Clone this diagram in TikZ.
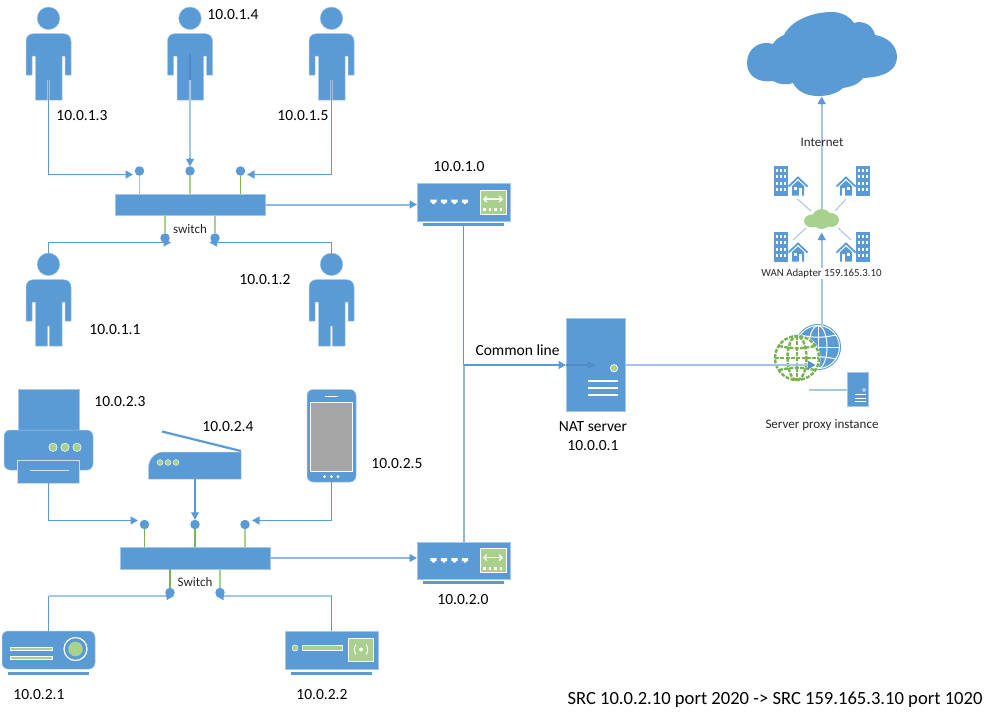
\documentclass[tikz,border=0pt]{standalone}
\usepackage{fontspec}
\setmainfont{Carlito}
\usetikzlibrary{arrows.meta,calc}
\definecolor{bl}{HTML}{5B9BD5}
\definecolor{lb}{HTML}{A5C6E6}
\definecolor{db}{HTML}{4E8CC6}
\definecolor{gr}{HTML}{A9D18E}
\definecolor{dg}{HTML}{70AD47}
\definecolor{gy}{HTML}{A5A5A5}
\tikzset{
 x=1pt,y=-1pt,
 icon/.style={fill=bl,draw=lb,line width=.5pt},
 conn/.style={draw=bl,line width=1.4pt},
 lightconn/.style={draw=lb,line width=2pt},
 arr/.style={-{Triangle[length=7.5pt,width=8pt,fill=bl]}},
 stub/.style={draw=gr,line width=1.7pt},
 stubd/.style={draw=dg!80!gr,line width=1.4pt},
 dotn/.style={circle,fill=bl,inner sep=0pt,minimum size=9.5pt,outer sep=0pt},
 swbox/.style={rectangle,fill=bl,draw=lb,line width=.5pt,minimum width=150pt,minimum height=21.5pt,inner sep=0pt,outer sep=0pt},
 boxn/.style={rectangle,icon,inner sep=0pt,outer sep=0pt},
 lab/.style={font=\fontsize{15.5}{17}\selectfont,inner sep=0pt,text=black},
 sm/.style={font=\fontsize{13}{15}\selectfont,inner sep=0pt,text=black!85},
 person/.pic={
  \fill[bl,draw=lb,line width=.4pt] (0,18.3) circle (11.3);
  \path[icon] (-22.5,75) -- (-22.5,41) .. controls (-22.5,36.5) and (-19.5,33.7) .. (-15,33.7) -- (15,33.7) .. controls (19.5,33.7) and (22.5,36.5) .. (22.5,41) -- (22.5,75) -- (16.5,75) -- (16.5,56) -- (13.5,56) -- (13.5,100) -- (.8,100) -- (.8,80) -- (-.8,80) -- (-.8,100) -- (-13,100) -- (-13,56) -- (-16.5,56) -- (-16.5,75) -- cycle;
  \coordinate (-c) at (0,80);
  \coordinate (-m) at (0,54);
  \coordinate (-t) at (0,7);
 },
 router/.pic={
  \node[boxn,minimum width=93pt,minimum height=37.5pt] (-b) at (0,0) {};
  \fill[bl] (-40.5,20.5) rectangle (40.5,23.5);
  \foreach \px in {-30,-19.5,-9,1.5}{
   \fill[white] (\px-3.2,-2.5) -- (\px+3.2,-2.5) -- (\px+3.2,.5) -- (\px+1.5,.5) -- (\px+1,2.2) -- (\px-1,2.2) -- (\px-1.5,.5) -- (\px-3.2,.5) -- cycle;
  }
  \path[fill=gr,draw=white,line width=.8pt] (16.5,-12) rectangle (42.5,12);
  \draw[white,line width=1.1pt,{Straight Barb[length=3pt,width=6pt]}-{Straight Barb[length=3pt,width=6pt]}] (19.5,-3) -- (39.5,-3);
  \foreach \px in {21,26.5,32,37.5}{\fill[white] (\px-1.3,6) rectangle (\px+1.3,9);}
 },
 building/.pic={
  \fill[bl] (0,0) rectangle (14,30);
  \foreach \c in {2.3,6,9.7}{\foreach \r in {2.5,9,15.5,22}{\fill[white] (\c,\r) rectangle +(2,3.2);}}
  \draw[bl,line width=1.8pt] (14.5,20.5) -- (24,11.5) -- (33.5,20.5);
  \fill[bl] (18,29.5) -- (18,20) -- (24,14.5) -- (30,20) -- (30,29.5) -- cycle;
  \fill[white] (20,21) rectangle (23,24);
  \fill[white] (25,22) rectangle (28,29.5);
 },
}
\begin{document}
\begin{tikzpicture}
\useasboundingbox (0,0) rectangle (993,721);
% ---- persons
\pic (p13) at (48.5,0) {person};
\pic (p14) at (190,0) {person};
\pic (p15) at (331.5,0) {person};
\pic (p11) at (48.5,246) {person};
\pic (p12) at (331.5,246) {person};
% ---- upper switch
\node[swbox] (sw1) at (190,204.5) {};
\node[dotn] (d13) at (139.5,171) {};
\node[dotn] (d14) at (190,171) {};
\node[dotn] (d15) at (240.5,171) {};
\node[dotn] (d11) at (165,238) {};
\node[dotn] (d12) at (215,238) {};
\draw[stub] (d13) -- (d13 |- sw1.north);
\draw[stub] (d14) -- (d14 |- sw1.north);
\draw[stubd] (d15) -- (d15 |- sw1.north);
\draw[stub] (d11) -- (d11 |- sw1.south);
\draw[stub] (d12) -- (d12 |- sw1.south);
\coordinate (t13) at (133,174.5);
\coordinate (t15) at (247,174.5);
\coordinate (t11) at (171,242.5);
\coordinate (t12) at (209.5,242.5);
\draw[conn,arr] (p13-c) |- (t13);
\draw[conn,arr] (p15-m) |- (t15);
\draw[conn,draw=db] (p14-m) -- (p14-c);
\draw[lightconn] (p14-c) -- ($(d14.north)+(0,-8)$);
\draw[conn,arr] ($(d14.north)+(0,-8)$) -- (d14.north);
\draw[conn,arr] (p11-t) |- (t11);
\draw[conn,arr] (p12-t) |- (t12);
% ---- routers
\pic (r1) at (463.5,202) {router};
\pic (r2) at (463.5,560.5) {router};
\coordinate (e1) at (sw1.east -| r1-b.west);
\draw[lightconn,draw=lb!70!bl] (sw1.east) -- ($(e1)+(-8,0)$);
\draw[conn,arr] ($(e1)+(-8,0)$) -- (e1);
\coordinate (j) at (463.5,365);
\draw[conn] (463.5,226) -- (j);
\draw[lightconn,draw=lb!70!bl] (j) -- (r2-b.north);
% ---- server
\node[boxn,minimum width=59pt,minimum height=93pt] (nat) at (595.5,365) {};
\fill[gr,draw=white,line width=.7pt] (614,368.2) circle (3.7);
\foreach \yy in {381,388,395}{\draw[white,line width=1.5pt] (588,\yy) -- (618,\yy);}
\draw[conn,line width=1.6pt,arr] (j) -- (nat.west);
\draw[db,line width=1.2pt,-{Triangle[length=7.5pt,width=7pt,fill=db]}] (nat.west) -- (595,365);
% ---- lower switch
\node[swbox] (sw2) at (195,558) {};
\node[dotn] (d23) at (144.5,524.5) {};
\node[dotn] (d24) at (195,524.5) {};
\node[dotn] (d25) at (245,524.5) {};
\node[dotn] (d21) at (170,592.5) {};
\node[dotn] (d22) at (220,592.5) {};
\draw[stubd] (d23) -- (d23 |- sw2.north);
\draw[stubd] (d24) -- (d24 |- sw2.north);
\draw[stub] (d25) -- (d25 |- sw2.north);
\draw[stubd] (d21) -- (d21 |- sw2.south);
\draw[stub] (d22) -- (d22 |- sw2.south);
% printer
\path[icon] (18,389) rectangle (79,430);
\path[icon,rounded corners=6pt] (4,470) -- (4,430) -- (93,430) -- (93,470) -- cycle;
\foreach \dx in {53,65,77}{\fill[gr,draw=white,line width=.5pt] (\dx,447.3) circle (4.2);}
\node[boxn,draw=white!40!lb,minimum width=62pt,minimum height=23.5pt] (prn) at (48.5,471.5) {};
\draw[lb!50!white,line width=1pt] (30,470.5) -- (69,470.5);
% scanner
\draw[bl,line width=2.2pt] (162,431.5) -- (241,451);
\path[icon] (148.5,479) -- (148.5,468) .. controls (148.5,459) and (155,452) .. (164,452) -- (241,452) -- (241,479) -- cycle;
\foreach \dx in {160,168,176}{\fill[gr,draw=white,line width=.4pt] (\dx,462.5) circle (2.9);}
\coordinate (scn) at (195,479);
% phone
\path[icon,rounded corners=6pt] (307,389.5) rectangle (356,482);
\fill[gy,draw=white,line width=.8pt] (310.5,402) rectangle (352.5,471);
\draw[white,line width=1pt] (325,396) -- (338,396);
\foreach \dx in {324.5,331.5,338}{\fill[white] (\dx,476.5) circle (1.5);}
\coordinate (phn) at (331.5,482);
\coordinate (t23) at (138,520.5);
\coordinate (t25) at (252,520.5);
\draw[conn,arr] (prn.south) |- (t23);
\draw[conn,line width=1.2pt,arr] (scn) -- (d24.north);
\draw[conn,arr] (phn) |- (t25);
\coordinate (e2) at (sw2.east -| r2-b.west);
\draw[lightconn,draw=lb!70!bl] (sw2.east) -- ($(e2)+(-8,0)$);
\draw[conn,arr] ($(e2)+(-8,0)$) -- (e2);
% projector
\path[icon,rounded corners=6pt] (2,669) -- (2,631) -- (95,631) -- (95,669) -- cycle;
\fill[bl] (8,672) rectangle (89,675);
\foreach \yy in {648.5,657.5}{\fill[gr,draw=white,line width=.6pt] (10,\yy-1.7) rectangle (52,\yy+1.7);}
\draw[white,line width=1.2pt,fill=bl] (75.5,649) circle (11.5);
\fill[gr] (75.5,649) circle (7.3);
\coordinate (prj) at (48.5,631);
% device
\path[icon] (285,631) rectangle (378,669);
\fill[bl] (291,672) rectangle (372,675);
\fill[gr,draw=white,line width=.5pt] (295,648) circle (3);
\fill[gr,draw=white,line width=.9pt] (302,645.5) rectangle (342,650.5);
\fill[gr,draw=white,line width=.8pt] (348.5,638) rectangle (373.5,661);
\fill[white] (361,649.5) circle (2);
\draw[white,line width=1pt] (356,644.5) to[bend right=35] (356,654.5);
\draw[white,line width=1pt] (366,644.5) to[bend left=35] (366,654.5);
\coordinate (dev) at (331.5,631);
\coordinate (t21) at (174,596);
\coordinate (t22) at (216,596);
\draw[lightconn] (prj |- t21) -- ($(t21)+(-8,0)$);
\draw[conn] (prj) -- (prj |- t21);
\draw[conn,arr] ($(t21)+(-8,0)$) -- (t21);
\draw[lightconn] (dev |- t22) -- ($(t22)+(8,0)$);
\draw[conn] (dev) -- (dev |- t22);
\draw[conn,arr] ($(t22)+(8,0)$) -- (t22);
% ---- cloud
\fill[bl] (747,63) .. controls (747,50) and (757,43) .. (766,43) .. controls (769,43) and (772,43.5) .. (773,44)
 .. controls (775,40) and (779,37) .. (784,35)
 .. controls (790,22) and (810,12) .. (832,12) .. controls (842,12) and (850,17) .. (854,23)
 .. controls (863,20) and (873,25) .. (875,35)
 .. controls (888,37) and (897,46) .. (897,57)
 .. controls (897,70) and (885,77) .. (863,78)
 .. controls (858,85) and (850,87) .. (843,88)
 .. controls (836,94) and (828,96) .. (818,96)
 .. controls (806,96) and (797,91) .. (793,83)
 .. controls (788,85) and (779,85) .. (773,81)
 .. controls (758,83) and (747,76) .. (747,63) -- cycle;
\coordinate (cl) at (821.7,96.5);
% ---- WAN
\fill[gr] (821.7,219) ellipse (10 and 10);
\fill[gr] (812,221) ellipse (8 and 6.5);
\fill[gr] (831,220) ellipse (8 and 7);
\coordinate (wan) at (821.7,232.5);
\foreach \aa/\bb/\cc/\dd in {797.5/199/811/211, 846/199/835/211, 806/228/793/240, 838/228/851/240}{\draw[lb,line width=1pt] (\aa,\bb) -- (\cc,\dd);}
\pic at (774,166) {building};
\pic[xscale=-1] at (870,166) {building};
\pic at (774,232) {building};
\pic[xscale=-1] at (870,232) {building};
% ---- globes
\fill[bl] (818,347) circle (23);
\begin{scope}[white,line width=1pt]
\draw (818,347) circle (21.5);
\draw (818,347) ellipse (9 and 21.5);
\draw (818,325.5) -- (818,368.5);
\draw (796.5,347) -- (839.5,347);
\draw (800,335) to[bend right=12] (836,335);
\draw (800,359) to[bend left=12] (836,359);
\end{scope}
\fill[white] (797,358) circle (23.5);
\begin{scope}[dg!85!gr,line width=2.4pt,dash pattern=on 4pt off 1.3pt]
\draw (797,358) circle (22);
\draw (797,358) ellipse (9.5 and 22);
\draw (797,336) -- (797,380);
\draw (775,358) -- (819,358);
\draw (779,346) to[bend right=12] (815,346);
\draw (779,370) to[bend left=12] (815,370);
\end{scope}
\coordinate (glb) at (815.5,365);
\coordinate (glt) at (821.7,325);
% small server
\path[icon] (847,372) rectangle (868,406);
\fill[bl,draw=white,line width=.5pt] (864,390) circle (1.5);
\foreach \yy in {394.5,398,401.5}{\draw[white,line width=1pt] (855,\yy) -- (866,\yy);}
\coordinate (srv) at (847,390);
\draw[lb,line width=1.6pt] (srv) -- (809,390);
% ---- right connectors
\draw[lightconn] (nat.east) -- ($(glb)+(-8,0)$);
\draw[conn,draw=db,arr] ($(glb)+(-8,0)$) -- (glb);
\draw[lightconn] (glt) -- (821.7,240);
\draw[conn,arr] (821.7,240) -- (wan);
\draw[lightconn] (821.7,209) -- (821.7,104);
\draw[conn,arr] (821.7,104) -- (cl);
% ---- labels
\node[lab] (l13) at (82,116) {10.0.1.3};
\node[lab] (l14) at (233,15) {10.0.1.4};
\node[lab] (l15) at (303,116) {10.0.1.5};
\node[lab] (l11) at (115,330) {10.0.1.1};
\node[lab] (l12) at (265,280) {10.0.1.2};
\node[lab] (l10) at (459,167) {10.0.1.0};
\node[lab] (lcm) at (517.5,350) {Common line};
\node[lab] (lnat) at (593,427) {NAT server};
\node[lab] (lnip) at (593,446) {10.0.0.1};
\node[lab] (l23) at (120,402) {10.0.2.3};
\node[lab] (l24) at (228,427) {10.0.2.4};
\node[lab] (l25) at (397,464) {10.0.2.5};
\node[lab] (l20) at (463,600) {10.0.2.0};
\node[lab] (l21) at (39,695) {10.0.2.1};
\node[lab] (l22) at (322,695) {10.0.2.2};
\node[lab,font=\fontsize{18.6}{20}\selectfont] (lsrc) at (775,699.5) {SRC 10.0.2.10 port 2020 -> SRC 159.165.3.10 port 1020};
\node[sm] (lsw1) at (190,229) {switch};
\node[sm] (lsw2) at (195,582.5) {Switch};
\node[sm] (lint) at (822,142) {Internet};
\node[sm,font=\fontsize{10.8}{12}\selectfont,fill=white,inner sep=1pt] (lwan) at (821.5,273.5) {WAN Adapter 159.165.3.10};
\node[sm] (lprx) at (822,425) {Server proxy instance};
\end{tikzpicture}
\end{document}
